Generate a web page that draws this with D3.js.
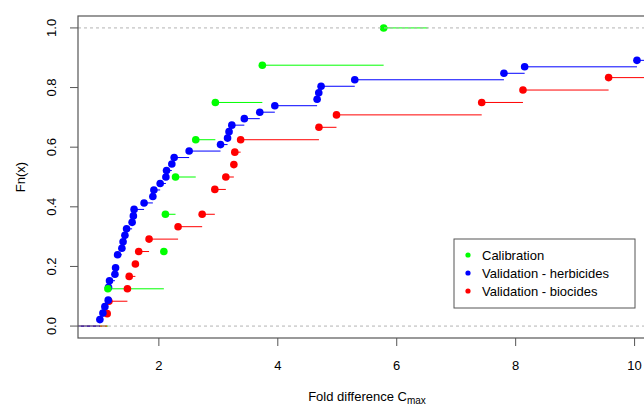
<!DOCTYPE html>
<html>
<head>
<meta charset="utf-8">
<script src="https://cdn.jsdelivr.net/npm/d3@7"></script>
<style>
  body { margin: 0; background: #fff; }
  text { font-family: "Liberation Sans", Arial, sans-serif; fill: #000; }
</style>
</head>
<body>
<svg id="chart" width="644" height="405"></svg>
<script>
// fold differences, one array per group
var calibration = [1.143, 2.084, 2.11, 2.28, 2.62, 2.95, 3.74, 5.78];
var herbicides = [1.008, 1.059, 1.092, 1.148, 1.153, 1.153, 1.170, 1.261, 1.272,
  1.306, 1.306, 1.378, 1.398, 1.429, 1.457, 1.550, 1.571, 1.583, 1.751, 1.899,
  1.916, 2.022, 2.118, 2.129, 2.218, 2.257, 2.509, 3.037, 3.155, 3.180, 3.227,
  3.437, 3.697, 3.950, 4.661, 4.689, 4.728, 5.294, 7.803, 8.151, 10.04,
  11.5, 13.0, 15.0, 18.0, 25.0];
var biocides = [1.131, 1.160, 1.471, 1.501, 1.605, 1.661, 1.835, 2.323, 2.728,
  2.941, 2.941, 3.126, 3.261, 3.277, 3.375, 4.692, 4.987, 7.429, 8.123, 9.563,
  12.0, 14.0, 17.0, 22.0];

var xTicks = [2, 4, 6, 8, 10];
var yTicks = [0, 0.2, 0.4, 0.6, 0.8, 1.0];
var legendLabels = ["Calibration", "Validation - herbicides", "Validation - biocides"];
var legendColors = ["#00ff00", "#0000ff", "#ff0000"];

var svg = d3.select("#chart");
var plot = {left: 78, right: 656, top: 16, bottom: 338};

// xlim = c(1, 10) plus R's 4% padding
var x = d3.scaleLinear().domain([0.64, 10.36]).range([plot.left, plot.right]);
var y = d3.scaleLinear().domain([-0.04, 1.04]).range([plot.bottom, plot.top]);

svg.append("rect").attr("width", 644).attr("height", 405).attr("fill", "#fff");

svg.append("clipPath").attr("id", "clip")
  .append("rect")
    .attr("x", plot.left).attr("y", plot.top)
    .attr("width", plot.right - plot.left).attr("height", plot.bottom - plot.top);

var g = svg.append("g").attr("clip-path", "url(#clip)");
var segLayer = g.append("g");
var ptLayer = g.append("g");

// step function like plot.ecdf(verticals = FALSE)
function ecdfSteps(values) {
  var v = values.slice().sort(d3.ascending);
  var n = v.length;
  var knots = Array.from(new Set(v));
  var pts = knots.map(function(k) {
    return {x: k, f: v.filter(function(d) { return d <= k; }).length / n};
  });
  var rx = d3.extent(knots);
  var diffs = d3.pairs(knots).map(function(p) { return p[1] - p[0]; });
  var dr = Math.max(0.08 * (rx[1] - rx[0]), d3.median(diffs));
  var segs = [{x1: rx[0] - 2 * dr, x2: knots[0], f: 0}];
  pts.forEach(function(p, i) {
    var next = i < pts.length - 1 ? pts[i + 1].x : rx[1] + 2 * dr;
    segs.push({x1: p.x, x2: next, f: p.f});
  });
  return {pts: pts, segs: segs};
}

function drawSegs(values, color) {
  segLayer.append("g").selectAll("line")
    .data(ecdfSteps(values).segs)
    .enter()
    .append("line")
      .attr("x1", function(d) { return x(d.x1); })
      .attr("x2", function(d) { return x(d.x2); })
      .attr("y1", function(d) { return y(d.f); })
      .attr("y2", function(d) { return y(d.f); })
      .attr("stroke", color)
      .attr("stroke-width", 1);
}

function drawPoints(values, color) {
  ptLayer.append("g").selectAll("circle")
    .data(ecdfSteps(values).pts)
    .enter()
    .append("circle")
      .attr("cx", function(d) { return x(d.x); })
      .attr("cy", function(d) { return y(d.f); })
      .attr("r", 3.8)
      .attr("fill", color);
}

drawSegs(calibration, "#00ff00");
drawSegs(biocides, "#ff0000");
drawSegs(herbicides, "#0000ff");
drawPoints(biocides, "#ff0000");
drawPoints(herbicides, "#0000ff");
drawPoints(calibration, "#00ff00");

// dashed reference lines at 0 and 1
g.selectAll(".ref")
  .data([0, 1])
  .enter()
  .append("line")
    .attr("x1", plot.left).attr("x2", plot.right)
    .attr("y1", function(d) { return y(d); })
    .attr("y2", function(d) { return y(d); })
    .attr("stroke", "#b3b3b3")
    .attr("stroke-dasharray", "3,3");

// box
svg.append("rect")
  .attr("x", plot.left).attr("y", plot.top)
  .attr("width", plot.right - plot.left).attr("height", plot.bottom - plot.top)
  .attr("fill", "none").attr("stroke", "#555").attr("stroke-width", 1.2);

// x axis
var xAxis = svg.append("g");
xAxis.selectAll("line").data(xTicks).enter().append("line")
  .attr("x1", function(d) { return x(d); }).attr("x2", function(d) { return x(d); })
  .attr("y1", plot.bottom).attr("y2", plot.bottom + 8)
  .attr("stroke", "#555");
xAxis.selectAll("text").data(xTicks).enter().append("text")
  .attr("x", function(d) { return x(d); })
  .attr("y", 370)
  .attr("text-anchor", "middle")
  .attr("font-size", 13)
  .text(function(d) { return d; });

// y axis
var yAxis = svg.append("g");
yAxis.selectAll("line").data(yTicks).enter().append("line")
  .attr("x1", plot.left - 8).attr("x2", plot.left)
  .attr("y1", function(d) { return y(d); }).attr("y2", function(d) { return y(d); })
  .attr("stroke", "#555");
yAxis.selectAll("text").data(yTicks).enter().append("text")
  .attr("transform", function(d) { return "translate(56," + y(d) + ") rotate(-90)"; })
  .attr("text-anchor", "middle")
  .attr("font-size", 13)
  .text(function(d) { return d.toFixed(1); });

svg.append("text")
  .attr("transform", "translate(25," + ((plot.top + plot.bottom) / 2) + ") rotate(-90)")
  .attr("text-anchor", "middle")
  .attr("font-size", 13)
  .text("Fn(x)");

var xlab = svg.append("text")
  .attr("x", 367).attr("y", 401)
  .attr("text-anchor", "middle")
  .attr("font-size", 13);
xlab.append("tspan").text("Fold difference C");
xlab.append("tspan").attr("font-size", 10).attr("dy", 3).text("max");

// legend
var legend = svg.append("g").attr("transform", "translate(454,239)");
legend.append("rect")
  .attr("width", 181).attr("height", 69)
  .attr("fill", "#fff").attr("stroke", "#555").attr("stroke-width", 1);
var rows = legend.selectAll(".row")
  .data(legendLabels)
  .enter()
  .append("g")
    .attr("transform", function(d, i) { return "translate(0," + (16 + i * 18) + ")"; });
rows.append("circle")
  .attr("cx", 14).attr("cy", 0).attr("r", 2.6)
  .attr("fill", function(d, i) { return legendColors[i]; });
rows.append("text")
  .attr("x", 28).attr("y", 5)
  .attr("font-size", 13)
  .text(function(d) { return d; });
</script>
</body>
</html>
